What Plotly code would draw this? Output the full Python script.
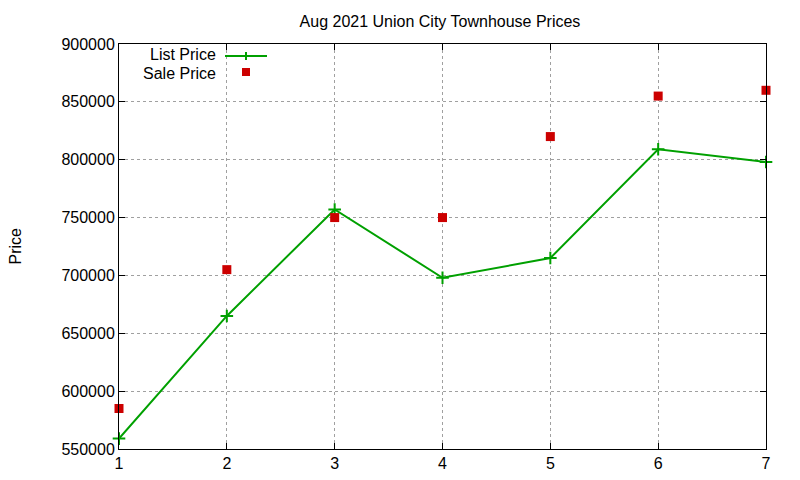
import plotly.graph_objects as go

# month index vs. average prices
months = [1, 2, 3, 4, 5, 6, 7]
listPrice = [559000, 665000, 757000, 698000, 715000, 809000, 798000]
salePrice = [585000, 705000, 750000, 750000, 820000, 855000, 860000]

green = "rgb(0,160,0)"
red = "rgb(204,0,0)"
font = "Liberation Sans, Arial, sans-serif"

fig = go.Figure()

fig.add_trace(go.Scatter(
    x=months, y=listPrice, mode="lines+markers", name="List Price",
    line=dict(color=green, width=2),
    marker=dict(symbol="cross-thin", size=9, line=dict(color=green, width=2)),
    cliponaxis=False,
))
fig.add_trace(go.Scatter(
    x=months, y=salePrice, mode="markers", name="Sale Price",
    marker=dict(symbol="square", size=9, color=red),
    cliponaxis=False,
))

axisStyle = dict(
    showline=True, linecolor="black", linewidth=1, mirror="ticks",
    ticks="inside", ticklen=6, tickcolor="black",
    showgrid=True, gridcolor="rgb(160,160,160)", griddash="dot", gridwidth=1,
    zeroline=False, tickfont=dict(family=font, size=16, color="black"),
)

fig.update_xaxes(range=[1, 7], dtick=1, **axisStyle)
fig.update_yaxes(range=[550000, 900000], dtick=50000, tickformat="d", **axisStyle)

# gnuplot style key: text on the left, sample on the right
keyX = (218 - 119) / 647
listY = 11
saleY = 29
fig.add_annotation(xref="paper", yref="paper", x=keyX, y=1 - listY / 405,
                   text="List Price", showarrow=False, xanchor="right", yanchor="middle",
                   font=dict(family=font, size=16, color="black"))
fig.add_annotation(xref="paper", yref="paper", x=keyX, y=1 - saleY / 405,
                   text="Sale Price", showarrow=False, xanchor="right", yanchor="middle",
                   font=dict(family=font, size=16, color="black"))
fig.add_shape(type="line", xref="paper", yref="paper",
              x0=(225 - 119) / 647, x1=(267 - 119) / 647,
              y0=1 - (listY + 1) / 405, y1=1 - (listY + 1) / 405,
              line=dict(color=green, width=2))
fig.add_shape(type="line", xref="paper", yref="paper",
              x0=(246 - 119) / 647, x1=(246 - 119) / 647,
              y0=1 - (listY - 3) / 405, y1=1 - (listY + 5) / 405,
              line=dict(color=green, width=2))
fig.add_shape(type="rect", xref="paper", yref="paper",
              x0=(242 - 119) / 647, x1=(250 - 119) / 647,
              y0=1 - (saleY - 5) / 405, y1=1 - (saleY + 3) / 405,
              line=dict(width=0), fillcolor=red)

# page body has an 8px margin, so shift everything up/left by 8
fig.update_layout(
    width=800, height=480,
    margin=dict(l=111, r=42, t=36, b=39),
    paper_bgcolor="white", plot_bgcolor="white",
    showlegend=False,
    title=dict(text="Aug 2021 Union City Townhouse Prices", x=432 / 800, xanchor="center",
               y=1 - 13 / 480, yanchor="middle",
               font=dict(family=font, size=16, color="black")),
    font=dict(family=font, color="black"),
)
fig.add_annotation(xref="paper", yref="paper", x=-104 / 647, y=0.5, text="Price",
                   textangle=-90, showarrow=False, xanchor="center", yanchor="middle",
                   font=dict(family=font, size=16, color="black"))

fig.write_html("out.html")
